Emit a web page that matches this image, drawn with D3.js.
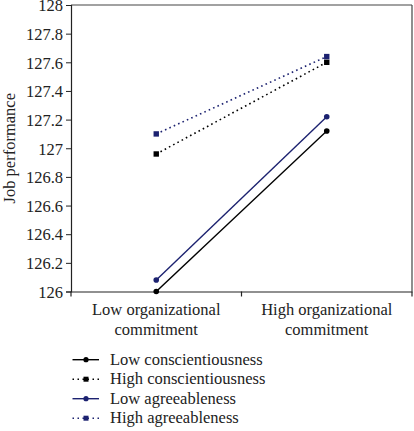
<!DOCTYPE html>
<html><head><meta charset="utf-8">
<script src="https://cdn.jsdelivr.net/npm/d3@7"></script>
<style>body{margin:0;background:#fff}svg{display:block}svg text{font-family:'Liberation Serif','DejaVu Serif',serif !important;fill:#222}</style>
</head><body><svg id="c" width="414" height="431"></svg>
<script>
const categories = ["Low organizational|commitment", "High organizational|commitment"];
const seriesNames = ["Low conscientiousness", "High conscientiousness", "Low agreeableness", "High agreeableness"];
const lowConsc = [126.0, 127.12];
const highConsc = [126.96, 127.60];
const lowAgree = [126.08, 127.22];
const highAgree = [127.10, 127.64];
const yTicks = [126, 126.2, 126.4, 126.6, 126.8, 127, 127.2, 127.4, 127.6, 127.8, 128];

const navy = "#1c2270";
const series = [
  {name: seriesNames[0], values: lowConsc, color: "#000", dotted: false, marker: "circle"},
  {name: seriesNames[1], values: highConsc, color: "#000", dotted: true, marker: "square"},
  {name: seriesNames[2], values: lowAgree, color: navy, dotted: false, marker: "circle"},
  {name: seriesNames[3], values: highAgree, color: navy, dotted: true, marker: "square"}
];

const svg = d3.select("#c");
const L = 71, R = 412, T = 5, B = 291.5;
const x = d3.scaleBand().domain(categories).range([L, R]);
const y = d3.scaleLinear().domain([126, 128]).range([B, T]);

svg.append("line").attr("x1", L).attr("x2", R).attr("y1", T).attr("y2", T).attr("stroke", "#444").attr("stroke-width", 1.2);
svg.append("line").attr("x1", R).attr("x2", R).attr("y1", T).attr("y2", B).attr("stroke", "#444").attr("stroke-width", 1.2);

const yAxis = svg.append("g").attr("transform", `translate(${L},0)`)
  .call(d3.axisLeft(y).tickValues(yTicks).tickSize(5).tickFormat(d3.format("~g")))
  .attr("font-family", null);
yAxis.select(".domain").attr("stroke", "#222").attr("stroke-width", 1.2);
yAxis.selectAll(".tick line").attr("stroke", "#222");
yAxis.selectAll("text").attr("font-size", 16.5).attr("x", -8).attr("dy", "0.35em").attr("fill", "#222");

const xAxis = svg.append("g").attr("transform", `translate(0,${B})`)
  .call(d3.axisBottom(x).tickSize(0).tickFormat(""));
xAxis.select(".domain").attr("stroke", "#222").attr("stroke-width", 1.2);
[L, (L + R) / 2, R].forEach(px => {
  svg.append("line").attr("x1", px).attr("x2", px).attr("y1", B).attr("y2", B + 5).attr("stroke", "#222").attr("stroke-width", 1.2);
});
categories.forEach(c => {
  const parts = c.split("|");
  const t = svg.append("text").attr("text-anchor", "middle").attr("font-size", 16.5);
  parts.forEach((p, i) => t.append("tspan").attr("x", x(c) + x.bandwidth() / 2).attr("y", 315 + i * 19.5).text(p));
});

svg.append("text").attr("transform", `translate(15,${(T + B) / 2}) rotate(-90)`)
  .attr("text-anchor", "middle").attr("font-size", 16.5).text("Job performance");

const cx = c => x(c) + x.bandwidth() / 2;
series.forEach(s => {
  const pts = s.values.map((v, i) => [cx(categories[i]), y(v)]);
  svg.append("path").attr("d", d3.line()(pts)).attr("fill", "none").attr("stroke", s.color)
    .attr("stroke-width", s.dotted ? 1.6 : 1.4).attr("stroke-dasharray", s.dotted ? "1.6,3.2" : null);
  pts.forEach(p => {
    if (s.marker === "circle") svg.append("circle").attr("cx", p[0]).attr("cy", p[1]).attr("r", 2.8).attr("fill", s.color);
    else svg.append("rect").attr("x", p[0] - 2.7).attr("y", p[1] - 2.7).attr("width", 5.4).attr("height", 5.4).attr("fill", s.color);
  });
});

series.forEach((s, i) => {
  const yy = 359.7 + i * 19.5;
  svg.append("line").attr("x1", 72.5).attr("x2", 99).attr("y1", yy).attr("y2", yy).attr("stroke", s.color)
    .attr("stroke-width", s.dotted ? 1.5 : 1.4).attr("stroke-dasharray", s.dotted ? "1.5,3.5" : null);
  if (s.marker === "circle") svg.append("circle").attr("cx", 86).attr("cy", yy).attr("r", 2.6).attr("fill", s.color);
  else svg.append("rect").attr("x", 83.5).attr("y", yy - 2.5).attr("width", 5).attr("height", 5).attr("fill", s.color);
  svg.append("text").attr("x", 110).attr("y", yy + 4.8).attr("font-size", 16.5).text(s.name);
});
</script></body></html>
